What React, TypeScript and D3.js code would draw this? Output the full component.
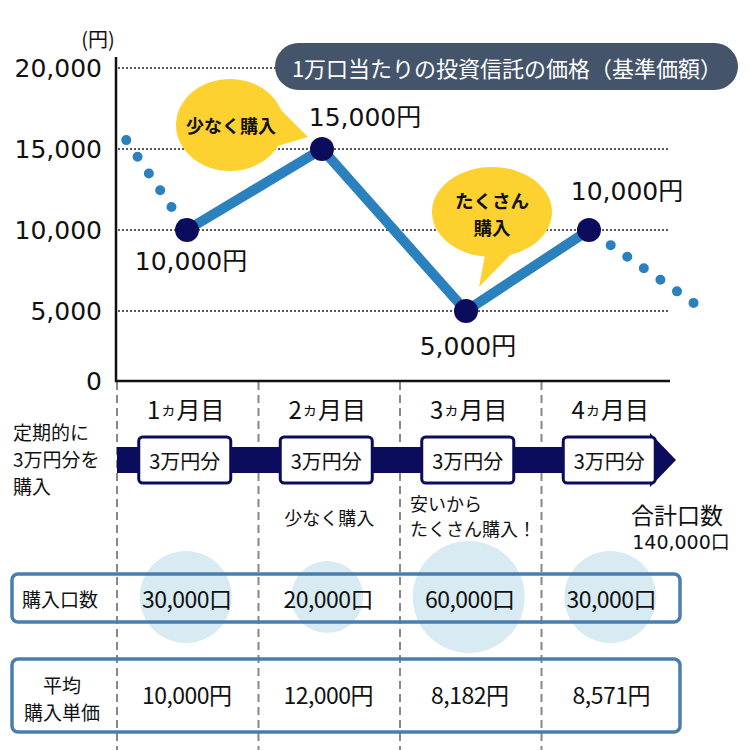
import React from "react";
import * as d3 from "d3";

// ---- data ----
const months = ["1", "2", "3", "4"];
const prices = [10000, 15000, 5000, 10000];
const yTicks = [0, 5000, 10000, 15000, 20000];
const leadIn = { m: 0.55, v: 15550 };
const trailOut = { m: 4.85, v: 5500 };
const monthlyAmount = "3万円分";
const units = [30000, 20000, 60000, 30000];
const avgPrices = [10000, 12000, 8182, 8571];
const totalUnits = 140000;
const title = "1万口当たりの投資信託の価格（基準価額）";
const bubbleTexts = [["少なく購入"], ["たくさん", "購入"]];
const notes = [[], ["少なく購入"], ["安いから", "たくさん購入！"], []];

// ---- style ----
const JP = "'Noto Sans CJK JP', sans-serif";
const NUM = "'DejaVu Sans', 'Noto Sans CJK JP', sans-serif";
const NAVY = "#0c0c5c";
const LINE = "#2a81bd";
const YELLOW = "#fdd12f";
const SLATE = "#44546a";
const TABLE = "#4a7daf";
const CIRCLE = "#d8ebf2";
const labelOffsets = [[4, 31], [43, -32], [2, 35], [38, -39]];

const fmt = d3.format(",");

export default function App() {
  const y = d3.scaleLinear().domain([0, 5000, 20000]).range([381, 311, 68]);
  const x = d3.scaleLinear().domain([1, 2, 3, 4]).range([187, 322, 466, 589]);
  const col = d3.scaleBand().domain(months).range([117, 683]);
  const rScale = d3.scaleLinear().domain([20000, 30000, 60000]).range([36, 46, 56]);
  const pts: [number, number][] = prices.map((v, i) => [x(i + 1), y(v)]);
  const line = d3.line();
  const lead = line([[x(leadIn.m), y(leadIn.v)], pts[0]]) as string;
  const trail = line([[x(trailOut.m), y(trailOut.v)], pts[3]]) as string;
  const cx = (m: string) => (col(m) as number) + col.bandwidth() / 2;

  // bubble anchors (tail tips) relative to points
  const b1 = [pts[1][0] - 14, pts[1][1] - 12];
  const b2 = [pts[2][0] + 13, pts[2][1] - 24];

  const dividers = months.map((m) => col(m) as number);

  return (
    <svg width={750} height={750} style={{ position: "absolute", left: 0, top: 0, display: "block" }}>
      <rect width={750} height={750} fill="#fff" />
      {/* gridlines */}
      {yTicks.filter((t) => t > 0).map((t) => (
        <line key={t} x1={118} x2={670} y1={y(t)} y2={y(t)} stroke="#222" strokeWidth={1.6} strokeDasharray="2 2" />
      ))}
      {/* dashed column dividers */}
      {dividers.map((d, i) => (
        <line key={i} x1={d} x2={d} y1={382} y2={750} stroke="#888" strokeWidth={2} strokeDasharray="8 5" />
      ))}
      {/* axis */}
      <line x1={116} x2={116} y1={57} y2={382} stroke="#111" strokeWidth={2.5} />
      <line x1={115} x2={670} y1={381} y2={381} stroke="#111" strokeWidth={2.5} />
      {yTicks.map((t) => (
        <text key={t} x={102} y={y(t)} textAnchor="end" dominantBaseline="central" fontFamily={NUM} fontSize={25} fill="#111">
          {fmt(t)}
        </text>
      ))}
      <text x={98} y={38} textAnchor="middle" dominantBaseline="central" fontFamily={JP} fontSize={20} fill="#111">(円)</text>

      {/* title pill */}
      <rect x={275} y={43} width={463} height={47} rx={23.5} fill={SLATE} />
      <text x={507} y={67} textAnchor="middle" dominantBaseline="central" fontFamily={JP} fontSize={22} fill="#fff">{title}</text>

      {/* bubbles */}
      <g>
        <ellipse cx={b1[0] - 78} cy={b1[1] - 12} rx={54} ry={46} fill={YELLOW} />
        <polygon points={`${b1[0] - 32},${b1[1] - 32} ${b1[0]},${b1[1]} ${b1[0] - 34},${b1[1] + 10}`} fill={YELLOW} />
        <text x={b1[0] - 77} y={b1[1] - 12} textAnchor="middle" dominantBaseline="central" fontFamily={JP} fontWeight="bold" fontSize={18} fill="#111">{bubbleTexts[0][0]}</text>
      </g>
      <g>
        <ellipse cx={b2[0] + 13} cy={b2[1] - 75} rx={60} ry={45} fill={YELLOW} />
        <polygon points={`${b2[0] + 7},${b2[1] - 37} ${b2[0]},${b2[1]} ${b2[0] + 36},${b2[1] - 37}`} fill={YELLOW} />
        {bubbleTexts[1].map((t, i) => (
          <text key={i} x={b2[0] + 13} y={b2[1] - 87 + i * 27} textAnchor="middle" dominantBaseline="central" fontFamily={JP} fontWeight="bold" fontSize={18.5} fill="#111">{t}</text>
        ))}
      </g>

      {/* price line */}
      <path d={lead} fill="none" stroke={LINE} strokeWidth={10} strokeLinecap="round" strokeDasharray="0 20.2" />
      <path d={trail} fill="none" stroke={LINE} strokeWidth={10} strokeLinecap="round" strokeDasharray="0 20.2" />
      <path d={line(pts) as string} fill="none" stroke={LINE} strokeWidth={10} strokeLinejoin="round" />
      {pts.map((p, i) => (
        <circle key={i} cx={p[0]} cy={p[1]} r={12} fill={NAVY} />
      ))}
      {pts.map((p, i) => (
        <text key={i} x={p[0] + labelOffsets[i][0]} y={p[1] + labelOffsets[i][1]} textAnchor="middle" dominantBaseline="central" fontFamily={NUM} fontSize={25} fill="#111">
          {fmt(prices[i])}円
        </text>
      ))}

      {/* month headers */}
      {months.map((m) => (
        <text key={m} x={cx(m) - 2} y={408} textAnchor="middle" dominantBaseline="central" fontFamily={JP} fontSize={24} fill="#111">
          {m}<tspan fontSize={16}>ヵ</tspan>月目
        </text>
      ))}

      {/* left caption */}
      {["定期的に", "3万円分を", "購入"].map((t, i) => (
        <text key={i} x={13} y={431 + i * 27} dominantBaseline="central" fontFamily={JP} fontSize={19} fill="#111">{t}</text>
      ))}

      {/* arrow */}
      <rect x={117} y={447} width={533} height={26} fill={NAVY} />
      <polygon points="650,433 676,460 650,487" fill={NAVY} />
      {months.map((m) => (
        <g key={m}>
          <rect x={cx(m) - 3 - 46} y={437} width={92} height={46} rx={4} fill="#fff" stroke={NAVY} strokeWidth={3} />
          <text x={cx(m) - 3} y={460} textAnchor="middle" dominantBaseline="central" fontFamily={JP} fontSize={20} fill="#111">{monthlyAmount}</text>
        </g>
      ))}

      {/* notes */}
      {notes[1].map((t, i) => (
        <text key={i} x={cx("2")} y={517} textAnchor="middle" dominantBaseline="central" fontFamily={JP} fontSize={18} fill="#111">{t}</text>
      ))}
      {notes[2].map((t, i) => (
        <text key={i} x={410} y={503 + i * 25} dominantBaseline="central" fontFamily={JP} fontSize={18} fill="#111">{t}</text>
      ))}
      <text x={677} y={514} textAnchor="middle" dominantBaseline="central" fontFamily={JP} fontSize={23} fill="#111">合計口数</text>
      <text x={681} y={542} textAnchor="middle" dominantBaseline="central" fontFamily={NUM} fontSize={19} fill="#111">{fmt(totalUnits)}口</text>

      {/* table row 1 */}
      {months.map((m, i) => (
        <circle key={m} cx={cx(m) - 2} cy={597} r={rScale(units[i])} fill={CIRCLE} />
      ))}
      <rect x={12} y={574} width={668} height={48} rx={6} fill="none" stroke={TABLE} strokeWidth={3.5} />
      <text x={22} y={598} dominantBaseline="central" fontFamily={JP} fontSize={19} fill="#111">購入口数</text>
      {months.map((m, i) => (
        <text key={m} x={cx(m) - 1} y={598} textAnchor="middle" dominantBaseline="central" fontFamily={JP} fontSize={23} letterSpacing={-0.5} fill="#111">
          {fmt(units[i])}口
        </text>
      ))}

      {/* table row 2 */}
      <rect x={12} y={659} width={668} height={73} rx={6} fill="none" stroke={TABLE} strokeWidth={3.5} />
      {["平均", "購入単価"].map((t, i) => (
        <text key={i} x={62} y={684 + i * 27} textAnchor="middle" dominantBaseline="central" fontFamily={JP} fontSize={19} fill="#111">{t}</text>
      ))}
      {months.map((m, i) => (
        <text key={m} x={cx(m) - 1} y={694} textAnchor="middle" dominantBaseline="central" fontFamily={JP} fontSize={23} letterSpacing={-0.5} fill="#111">
          {fmt(avgPrices[i])}円
        </text>
      ))}
    </svg>
  );
}
